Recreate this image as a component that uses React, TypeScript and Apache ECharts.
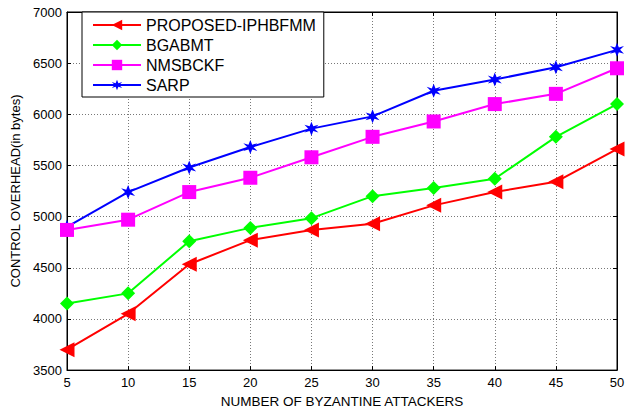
import React, { useEffect, useRef } from "react";
import * as echarts from "echarts";

const attackers = [5, 10, 15, 20, 25, 30, 35, 40, 45, 50];
const proposed = [3700, 4050, 4535, 4770, 4870, 4930, 5110, 5240, 5340, 5660];
const bgabmt = [4150, 4250, 4760, 4890, 4985, 5200, 5280, 5370, 5780, 6100];
const nmsbckf = [4870, 4970, 5240, 5380, 5580, 5780, 5930, 6100, 6200, 6450];
const sarp = [4900, 5240, 5480, 5680, 5860, 5980, 6230, 6340, 6460, 6630];

const seriesNames = ["PROPOSED-IPHBFMM", "BGABMT", "NMSBCKF", "SARP"];
const seriesColors = ["#ff0000", "#00ff00", "#ff00ff", "#0000ff"];

const starPath =
  "path://M50,0 L62,33 L95,22 L70,50 L95,78 L62,67 L50,100 L38,67 L5,78 L30,50 L5,22 L38,33 Z";

export default function App() {
  const ref = useRef<HTMLDivElement>(null);
  useEffect(() => {
    if (!ref.current) return;
    const chart = echarts.init(ref.current, undefined, { renderer: "svg" });
    const font = "'Liberation Sans', Arial, sans-serif";
    const all = [proposed, bgabmt, nmsbckf, sarp];
    const symbols = ["triangle", "diamond", "rect", starPath];
    const sizes = [15, 14, 14, 14];
    const rotates = [90, 0, 0, 0];
    chart.setOption({
      animation: false,
      backgroundColor: "#fff",
      textStyle: { fontFamily: font },
      grid: { left: 67, right: 16, top: 12, bottom: 38, show: true, borderColor: "#000", borderWidth: 1 },
      legend: {
        orient: "vertical",
        left: 82,
        top: 12,
        data: seriesNames,
        backgroundColor: "#fff",
        borderColor: "#000",
        borderWidth: 1,
        borderRadius: 0,
        padding: [5, 8, 4, 10],
        itemWidth: 48,
        itemHeight: 13,
        itemGap: 4,
        textStyle: { fontSize: 16, color: "#000", fontFamily: font },
      },
      xAxis: [
        {
          type: "value",
          min: 5,
          max: 50,
          interval: 5,
          name: "NUMBER OF BYZANTINE ATTACKERS",
          nameLocation: "middle",
          nameGap: 21,
          nameTextStyle: { fontSize: 13.5, color: "#000", fontFamily: font },
          axisLine: { show: true, lineStyle: { color: "#000" } },
          axisTick: { show: true, inside: true, length: 4, lineStyle: { color: "#000" } },
          axisLabel: { fontSize: 13, color: "#000", margin: 6, fontFamily: font },
          splitLine: { show: true, lineStyle: { color: "#555", type: [1, 2], width: 0.8 } },
        },
        {
          type: "value",
          position: "top",
          min: 5,
          max: 50,
          interval: 5,
          axisLine: { show: true, lineStyle: { color: "#000" } },
          axisTick: { show: true, inside: true, length: 4, lineStyle: { color: "#000" } },
          axisLabel: { show: false },
          splitLine: { show: false },
        },
      ],
      yAxis: [
        {
          type: "value",
          min: 3500,
          max: 7000,
          interval: 500,
          name: "CONTROL OVERHEAD(in bytes)",
          nameLocation: "middle",
          nameGap: 42,
          nameTextStyle: { fontSize: 13, color: "#000", fontFamily: font },
          axisLine: { show: true, lineStyle: { color: "#000" } },
          axisTick: { show: true, inside: true, length: 4, lineStyle: { color: "#000" } },
          axisLabel: { fontSize: 13, color: "#000", margin: 5, fontFamily: font, formatter: (v: number) => String(v) },
          splitLine: { show: true, lineStyle: { color: "#555", type: [1, 2], width: 0.8 } },
        },
        {
          type: "value",
          position: "right",
          min: 3500,
          max: 7000,
          interval: 500,
          axisLine: { show: true, lineStyle: { color: "#000" } },
          axisTick: { show: true, inside: true, length: 4, lineStyle: { color: "#000" } },
          axisLabel: { show: false },
          splitLine: { show: false },
        },
      ],
      series: seriesNames.map((name, i) => ({
        name,
        type: "line",
        data: attackers.map((x, j) => [x, all[i][j]]),
        symbol: symbols[i],
        symbolSize: sizes[i],
        symbolRotate: rotates[i],
        showAllSymbol: true,
        lineStyle: { color: seriesColors[i], width: 2 },
        itemStyle: { color: seriesColors[i] },
        z: 2 + (3 - i),
      })),
    });
    return () => chart.dispose();
  }, []);
  return <div ref={ref} style={{ width: 633, height: 413, position: "fixed", left: 0, top: 0 }} />;
}
